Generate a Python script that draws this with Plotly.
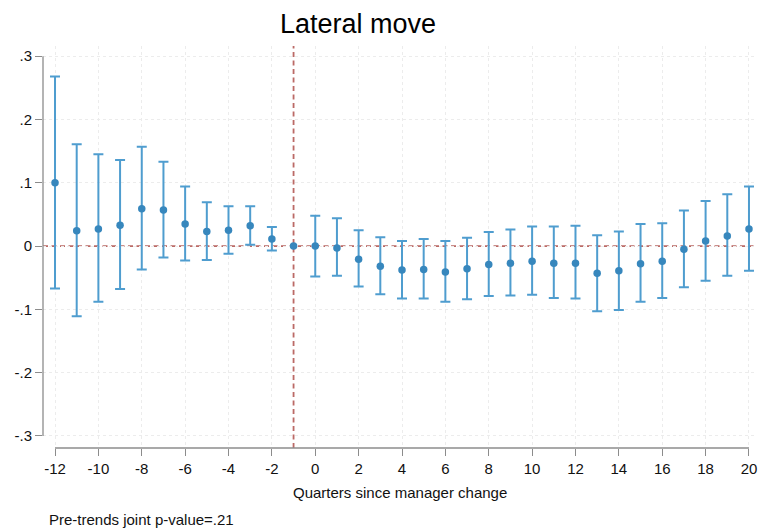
import plotly.graph_objects as go

quarters = list(range(-12, 21))
coef = [0.100, 0.024, 0.027, 0.033, 0.059, 0.057, 0.035, 0.023, 0.025, 0.032, 0.011, 0.0,
        0.000, -0.003, -0.021, -0.032, -0.038, -0.037, -0.041, -0.036, -0.029, -0.027, -0.024,
        -0.027, -0.027, -0.043, -0.039, -0.028, -0.024, -0.005, 0.008, 0.016, 0.027]
ci_upper = [0.268, 0.161, 0.145, 0.136, 0.157, 0.133, 0.094, 0.069, 0.063, 0.063, 0.030, None,
            0.048, 0.044, 0.025, 0.014, 0.008, 0.011, 0.008, 0.013, 0.022, 0.026, 0.031,
            0.031, 0.032, 0.017, 0.023, 0.035, 0.036, 0.056, 0.071, 0.082, 0.094]
ci_lower = [-0.067, -0.111, -0.088, -0.068, -0.037, -0.018, -0.023, -0.022, -0.012, 0.002, -0.007, None,
            -0.048, -0.047, -0.064, -0.076, -0.083, -0.083, -0.088, -0.084, -0.079, -0.078, -0.077,
            -0.082, -0.083, -0.103, -0.101, -0.088, -0.082, -0.065, -0.055, -0.047, -0.039]

xtick_vals = list(range(-12, 21, 2))
xtick_text = [str(v) for v in xtick_vals]
ytick_vals = [-0.3, -0.2, -0.1, 0, 0.1, 0.2, 0.3]
ytick_text = ["-.3", "-.2", "-.1", "0", ".1", ".2", ".3"]

title_text = "Lateral move"
xtitle_text = "Quarters since manager change"
note_text = "Pre-trends joint p-value=.21"
ref_quarter = -1

FONT = "Liberation Sans, Arial, Helvetica, sans-serif"
MARKER = "#3787bd"
ERRC = "#4f9dcf"
REDC = "#bb6a66"
AXC = "#8c8c8c"

est_x, est_y, err_p, err_m = [], [], [], []
ref_x, ref_y = [], []
for q, c, u, l in zip(quarters, coef, ci_upper, ci_lower):
    if u is None:
        ref_x.append(q)
        ref_y.append(c)
    else:
        est_x.append(q)
        est_y.append(c)
        err_p.append(u - c)
        err_m.append(c - l)

fig = go.Figure()
fig.add_trace(go.Scatter(
    x=est_x, y=est_y, mode="markers",
    marker=dict(color=MARKER, size=7.5),
    error_y=dict(type="data", array=err_p, arrayminus=err_m, symmetric=False,
                 color=ERRC, thickness=2, width=5),
    showlegend=False,
))
fig.add_trace(go.Scatter(
    x=ref_x, y=ref_y, mode="markers",
    marker=dict(color=MARKER, size=7.5), showlegend=False,
))

# reference lines
fig.add_shape(type="line", xref="paper", yref="y", x0=0, x1=1, y0=0, y1=0,
              line=dict(color=REDC, width=1.8, dash="5px,3.5px"), layer="between")
fig.add_shape(type="line", xref="x", yref="paper", x0=ref_quarter, x1=ref_quarter, y0=0, y1=1,
              line=dict(color=REDC, width=1.8, dash="5px,3.5px"), layer="between")
# axis lines (Stata style, spanning only the tick range)
fig.add_shape(type="line", xref="paper", yref="y", x0=0, x1=0, y0=ytick_vals[0], y1=ytick_vals[-1],
              line=dict(color=AXC, width=1.3), layer="above")
fig.add_shape(type="line", xref="x", yref="paper", x0=xtick_vals[0], x1=xtick_vals[-1], y0=0, y1=0,
              line=dict(color=AXC, width=1.3), layer="above")

fig.update_layout(
    width=760, height=529,
    margin=dict(l=43, r=3, t=46, b=81),
    paper_bgcolor="white", plot_bgcolor="white",
    font=dict(family=FONT, size=15, color="#111111"),
    title=dict(text=title_text, x=358 / 760, xanchor="center", xref="container",
               y=1 - 24 / 529, yanchor="middle", yref="container",
               font=dict(size=27, color="#000000", family=FONT)),
    xaxis=dict(range=[-12.554, 20.37], tickvals=xtick_vals, ticktext=xtick_text,
               showline=False, zeroline=False, ticks="outside", ticklen=7,
               tickcolor=AXC, tickwidth=1.3,
               showgrid=True, gridcolor="#ececec", griddash="dot", gridwidth=1,
               tickfont=dict(size=15, color="#111111")),
    yaxis=dict(range=[-0.319, 0.316], tickvals=ytick_vals, ticktext=ytick_text,
               showline=False, zeroline=False, ticks="outside", ticklen=7,
               tickcolor=AXC, tickwidth=1.3,
               showgrid=True, gridcolor="#ececec", griddash="dot", gridwidth=1,
               tickfont=dict(size=15, color="#111111")),
    annotations=[
        dict(text=xtitle_text, xref="paper", yref="paper", x=0.5, y=-44 / 402,
             xanchor="center", yanchor="middle", showarrow=False,
             font=dict(size=15, color="#111111")),
        dict(text=note_text, xref="paper", yref="paper", x=4 / 714, y=-71 / 402,
             xanchor="left", yanchor="middle", showarrow=False,
             font=dict(size=15, color="#111111")),
    ],
)

fig.write_html("out.html")
